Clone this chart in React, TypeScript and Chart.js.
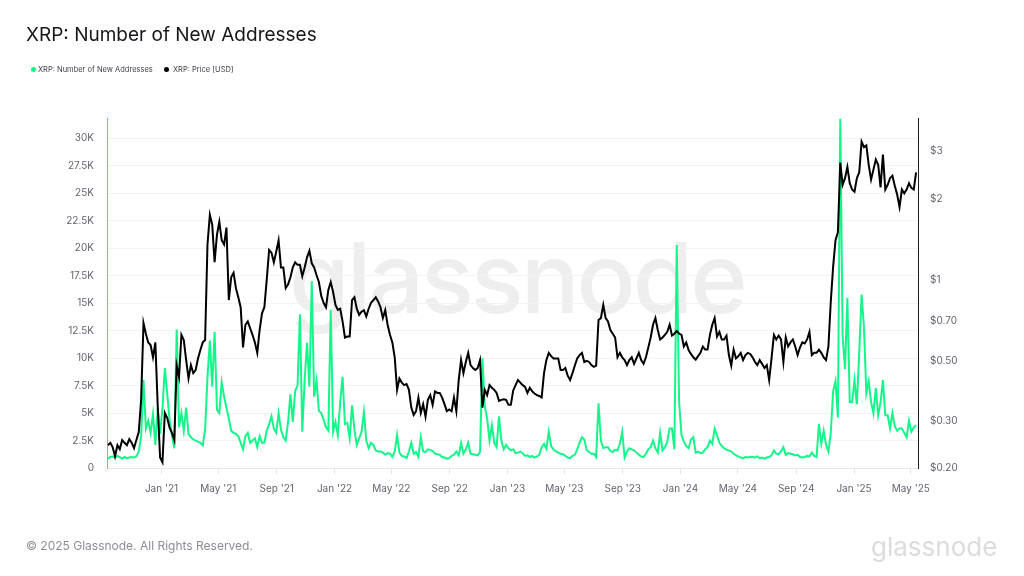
import {useEffect, useRef} from "react";
import {Chart, registerables} from "chart.js";

Chart.register(...registerables);

const DAY = 86400000
const firstDay = Date.UTC(2020, 8, 10)
const stepDays = 5

// one reading every 5 days, starting 10 Sep 2020
const newAddresses: number[] = [
  850, 1000, 1050, 950, 1100, 1000, 850, 1000, 900, 950,
  1000, 950, 1050, 1500, 2900, 8000, 3600, 4300, 3200, 4900,
  2100, 5500, 3100, 5400, 9100, 6800, 4400, 3000, 1800, 12600,
  3700, 5000, 3400, 5500, 3100, 2800, 2600, 2500, 2400, 2300,
  2050, 3500, 8300, 11600, 7400, 12400, 5300, 5000, 7800, 6500,
  5500, 4500, 3400, 3200, 3100, 2900, 2300, 1700, 2900, 3200,
  2300, 2500, 2700, 1900, 2900, 2300, 2300, 3400, 4000, 4700,
  3600, 3200, 5000, 3500, 2800, 2500, 4200, 6700, 4200, 7000,
  7500, 14000, 3300, 8000, 11400, 7400, 17000, 6500, 8000, 5200,
  5000, 4400, 3700, 3400, 14400, 3300, 4200, 3000, 6000, 8300,
  4000, 4100, 2700, 5700, 3500, 2100, 2700, 3300, 5100, 2500,
  1800, 2300, 2100, 1600, 1500, 1500, 1400, 1200, 1350, 1300,
  1000, 1500, 3000, 1400, 1100, 1050, 900, 1500, 2300, 1300,
  1450, 1000, 2800, 1500, 1450, 1700, 1650, 1550, 1300, 1250,
  1200, 1000, 950, 850, 900, 1100, 1200, 1500, 1150, 2300,
  1300, 1700, 2300, 1300, 1250, 1200, 1150, 1450, 10000, 5600,
  4500, 2500, 3900, 2300, 1900, 4700, 2500, 1700, 2100, 1800,
  1600, 1700, 1350, 1400, 1500, 1350, 1100, 1150, 1000, 1100,
  950, 1050, 1200, 1900, 2200, 1750, 3300, 2000, 1700, 1500,
  1400, 1300, 1250, 1100, 950, 900, 1100, 1200, 1700, 2300,
  2800, 2600, 1650, 1450, 1300, 1300, 1000, 5900, 2500, 1800,
  1900, 1900, 1550, 1450, 1650, 1600, 2200, 3300, 950, 1500,
  1800, 1700, 1600, 1400, 1200, 1050, 1000, 1300, 1700, 1900,
  2500, 1800, 1400, 3200, 1600, 1900, 2400, 3600, 3600, 1700,
  20300, 6000, 3000, 2400, 2000, 1800, 2600, 2800, 1400, 1500,
  1350, 1400, 1700, 1900, 2500, 2200, 3600, 3000, 2300, 2000,
  1800, 1650, 1600, 1500, 1300, 1150, 1050, 950, 900, 1000,
  950, 1000, 1000, 950, 1050, 900, 950, 850, 950, 1000,
  1150, 1600, 1300, 1250, 1500, 1900, 1200, 1350, 1300, 1250,
  1150, 1200, 1000, 950, 1000, 1100, 1050, 1400, 1100, 1000,
  4000, 2200, 3400, 2100, 1500, 3200, 7000, 7900, 4600, 31800,
  12000, 9000, 15500, 6000, 6000, 8000, 5800, 10500, 15800, 12800,
  6800, 7900, 6000, 5000, 7300, 4800, 6000, 8000, 4800, 4800,
  3600, 5000, 3800, 3400, 3600, 3600, 3200, 2800, 4300, 3300,
  3700, 3900,
]

const priceUsd: number[] = [
  0.243, 0.248, 0.239, 0.221, 0.243, 0.235, 0.254, 0.248, 0.243, 0.256,
  0.248, 0.237, 0.254, 0.272, 0.358, 0.69, 0.63, 0.585, 0.572, 0.515,
  0.585, 0.34, 0.219, 0.21, 0.32, 0.307, 0.282, 0.27, 0.254, 0.48,
  0.435, 0.624, 0.597, 0.503, 0.43, 0.482, 0.45, 0.462, 0.51, 0.548,
  0.585, 0.597, 1.35, 1.74, 1.6, 1.16, 1.47, 1.64, 1.4, 1.35,
  1.56, 0.84, 1.02, 1.06, 0.93, 0.86, 0.79, 0.56, 0.68, 0.7,
  0.66, 0.624, 0.585, 0.535, 0.65, 0.75, 0.79, 1.0, 1.29, 1.26,
  1.16, 1.27, 1.4, 1.11, 1.11, 0.93, 0.96, 1.02, 1.11, 1.16,
  1.135, 1.135, 1.03, 1.11, 1.21, 1.28, 1.15, 1.11, 1.04, 0.98,
  0.87, 0.82, 0.79, 0.916, 0.98, 0.9, 0.806, 0.772, 0.78, 0.7,
  0.61, 0.615, 0.615, 0.84, 0.86, 0.78, 0.74, 0.76, 0.77, 0.73,
  0.78, 0.82, 0.84, 0.86, 0.83, 0.79, 0.72, 0.77, 0.68, 0.624,
  0.585, 0.515, 0.39, 0.43, 0.415, 0.406, 0.41, 0.39, 0.335, 0.315,
  0.325, 0.365, 0.32, 0.345, 0.31, 0.358, 0.373, 0.343, 0.385, 0.38,
  0.38, 0.365, 0.345, 0.325, 0.33, 0.325, 0.365, 0.325, 0.424, 0.503,
  0.45, 0.495, 0.535, 0.482, 0.47, 0.462, 0.47, 0.503, 0.335, 0.39,
  0.373, 0.406, 0.397, 0.39, 0.38, 0.355, 0.358, 0.36, 0.358, 0.343,
  0.343, 0.388, 0.406, 0.424, 0.415, 0.406, 0.4, 0.38, 0.397, 0.385,
  0.378, 0.373, 0.37, 0.365, 0.45, 0.503, 0.535, 0.52, 0.51, 0.51,
  0.51, 0.462, 0.462, 0.47, 0.44, 0.424, 0.45, 0.48, 0.51, 0.525,
  0.535, 0.495, 0.5, 0.495, 0.482, 0.475, 0.48, 0.709, 0.72, 0.806,
  0.72, 0.7, 0.65, 0.63, 0.61, 0.515, 0.535, 0.515, 0.503, 0.482,
  0.503, 0.515, 0.487, 0.51, 0.535, 0.503, 0.487, 0.515, 0.56, 0.61,
  0.68, 0.72, 0.65, 0.6, 0.61, 0.624, 0.64, 0.68, 0.62, 0.63,
  0.645, 0.63, 0.624, 0.565, 0.585, 0.548, 0.53, 0.515, 0.505, 0.52,
  0.535, 0.565, 0.55, 0.55, 0.624, 0.68, 0.72, 0.615, 0.64, 0.6,
  0.6, 0.62, 0.525, 0.48, 0.55, 0.51, 0.52, 0.535, 0.503, 0.525,
  0.535, 0.53, 0.515, 0.495, 0.482, 0.503, 0.487, 0.47, 0.482, 0.424,
  0.51, 0.624, 0.6, 0.62, 0.6, 0.495, 0.61, 0.565, 0.585, 0.6,
  0.565, 0.525, 0.56, 0.585, 0.58, 0.6, 0.64, 0.525, 0.535, 0.535,
  0.55, 0.535, 0.515, 0.503, 0.565, 0.83, 1.12, 1.4, 1.5, 2.72,
  2.25, 2.38, 2.62, 2.28, 2.16, 2.12, 2.38, 2.5, 3.25, 3.1,
  3.15, 2.67, 2.35, 2.56, 2.79, 2.67, 2.2, 2.91, 2.16, 2.25,
  2.38, 2.43, 2.23, 2.07, 1.86, 2.16, 2.09, 2.16, 2.28, 2.19,
  2.16, 2.5,
]

const monthTicks: number[] = [
  Date.UTC(2021, 0, 1), Date.UTC(2021, 4, 1), Date.UTC(2021, 8, 1),
  Date.UTC(2022, 0, 1), Date.UTC(2022, 4, 1), Date.UTC(2022, 8, 1),
  Date.UTC(2023, 0, 1), Date.UTC(2023, 4, 1), Date.UTC(2023, 8, 1),
  Date.UTC(2024, 0, 1), Date.UTC(2024, 4, 1), Date.UTC(2024, 8, 1),
  Date.UTC(2025, 0, 1), Date.UTC(2025, 4, 1),
]
const monthLabels = [
  "Jan '21", "May '21", "Sep '21", "Jan '22", "May '22", "Sep '22", "Jan '23",
  "May '23", "Sep '23", "Jan '24", "May '24", "Sep '24", "Jan '25", "May '25",
]
const addressTicks = [0, 2500, 5000, 7500, 10000, 12500, 15000, 17500, 20000, 22500, 25000, 27500, 30000]
const addressTickLabels = ["0", "2.5K", "5K", "7.5K", "10K", "12.5K", "15K", "17.5K", "20K", "22.5K", "25K", "27.5K", "30K"]
const priceTicks = [0.2, 0.3, 0.5, 0.7, 1, 2, 3]
const priceTickLabels = ["$0.20", "$0.30", "$0.50", "$0.70", "$1", "$2", "$3"]

const GREEN = "#14f58a"
const BLACK = "#000000"
const TICK_FONT = {family: "Inter", size: 10}
const TICK_COLOR = "#62656e"

const toPoints = (values: number[]) =>
  values.map((v, i) => ({x: firstDay + i * stepDays * DAY, y: v}))

const text = (left: number, top: number, size: number, color: string): React.CSSProperties => ({
  position: "absolute",
  left,
  top,
  fontSize: size,
  color,
  fontFamily: "Inter",
  lineHeight: 1,
  whiteSpace: "nowrap",
})

const dot = (left: number, top: number, color: string): React.CSSProperties => ({
  position: "absolute",
  left,
  top,
  width: 5,
  height: 5,
  borderRadius: "50%",
  background: color,
})

export default function App() {
  const canvas = useRef<HTMLCanvasElement>(null)

  useEffect(() => {
    const chart = new Chart(canvas.current!, {
      type: "line",
      data: {
        datasets: [
          {
            label: "XRP: Number of New Addresses",
            data: toPoints(newAddresses),
            yAxisID: "y",
            borderColor: GREEN,
            borderWidth: 2,
            pointRadius: 0,
            tension: 0,
            order: 2,
          },
          {
            label: "XRP: Price [USD]",
            data: toPoints(priceUsd),
            yAxisID: "y1",
            borderColor: BLACK,
            borderWidth: 2,
            pointRadius: 0,
            tension: 0,
            order: 1,
          },
        ],
      },
      options: {
        animation: false,
        responsive: false,
        layout: {padding: {top: 118}},
        plugins: {legend: {display: false}, tooltip: {enabled: false}},
        scales: {
          x: {
            type: "linear",
            min: Date.UTC(2020, 8, 8),
            max: Date.UTC(2025, 4, 16),
            afterBuildTicks: (scale: any) => {
              scale.ticks = monthTicks.map((value) => ({value}))
            },
            afterFit: (scale: any) => {
              scale.height = 108
            },
            ticks: {
              autoSkip: false,
              maxRotation: 0,
              padding: 9,
              font: TICK_FONT,
              color: TICK_COLOR,
              callback: (value: any) => monthLabels[monthTicks.indexOf(Number(value))],
            },
            grid: {drawOnChartArea: false, tickLength: 6, color: "#e4e4e8"},
            border: {color: "#e9e9ec"},
          },
          y: {
            position: "left",
            min: 0,
            max: 31866,
            afterBuildTicks: (scale: any) => {
              scale.ticks = addressTicks.map((value) => ({value}))
            },
            afterFit: (scale: any) => {
              scale.width = 107
            },
            ticks: {
              autoSkip: false,
              padding: 13,
              font: TICK_FONT,
              color: TICK_COLOR,
              callback: (value: any) => addressTickLabels[addressTicks.indexOf(Number(value))],
            },
            grid: {color: "#f3f3f4", drawTicks: false},
            border: {color: GREEN, width: 1},
          },
          y1: {
            type: "logarithmic",
            position: "right",
            min: 0.2,
            max: 3.98,
            afterBuildTicks: (scale: any) => {
              scale.ticks = priceTicks.map((value) => ({value}))
            },
            afterFit: (scale: any) => {
              scale.width = 106
            },
            ticks: {
              autoSkip: false,
              padding: 4,
              font: TICK_FONT,
              color: TICK_COLOR,
              callback: (value: any) => priceTickLabels[priceTicks.indexOf(Number(value))],
            },
            grid: {display: false},
            border: {color: "#1c1c1c", width: 1},
          },
        },
      },
    })
    return () => {
      chart.destroy()
    }
  }, [])

  return (
    <div style={{position: "fixed", left: 0, top: 0, width: 1024, height: 576, background: "#fff", overflow: "hidden"}}>
      <div style={{...text(289, 229, 98, "#eeeeef"), letterSpacing: -3, fontWeight: 500}}>glassnode</div>
      <canvas ref={canvas} width={1024} height={576} style={{position: "absolute", left: 0, top: 0}}/>
      <div style={text(26, 25, 19, "#17171b")}>XRP: Number of New Addresses</div>
      <span style={dot(31, 67, GREEN)}/>
      <div style={text(38, 66, 7.5, "#3c3f47")}>XRP: Number of New Addresses</div>
      <span style={dot(164, 67, BLACK)}/>
      <div style={text(173, 66, 7.5, "#3c3f47")}>XRP: Price [USD]</div>
      <div style={text(26, 540, 12, "#8b8d93")}>© 2025 Glassnode. All Rights Reserved.</div>
      <div style={text(871, 534, 26, "#dcdcde")}>glassnode</div>
    </div>
  )
}
